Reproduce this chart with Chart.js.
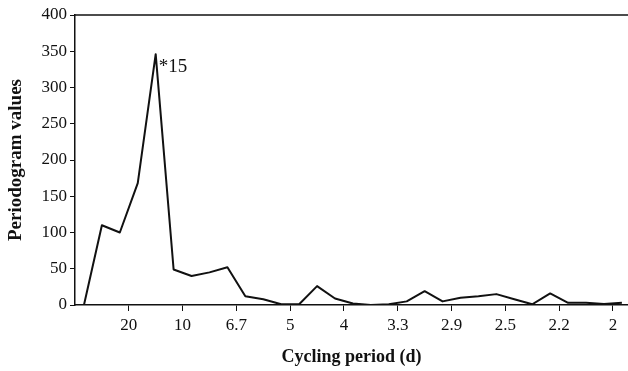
<!DOCTYPE html>
<html>
<head>
<meta charset="utf-8">
<script src="https://cdn.jsdelivr.net/npm/chart.js@4"></script>
<style>
  html, body { margin: 0; padding: 0; background: #fff; }
  #wrap { width: 628px; height: 371px; }
</style>
</head>
<body>
<div id="wrap"><canvas id="chart"></canvas></div>
<script>
// Periodogram ordinates, one per harmonic (first point sits half a step into the axis)
const periodogram = [0, 110, 100, 168, 346, 49, 40, 45, 52, 12, 8, 1, 1, 26, 9, 2, 0, 1, 5, 19, 5, 10, 12, 15, 8, 1, 16, 3, 3, 1.5, 3];
// Harmonic positions where the period ticks sit, and their labels (days)
const tickHarmonics = [3, 6, 9, 12, 15, 18, 21, 24, 27, 30];
const periodLabels = ['20', '10', '6.7', '5', '4', '3.3', '2.9', '2.5', '2.2', '2'];
const yTicks = [0, 50, 100, 150, 200, 250, 300, 350, 400];
const peakNote = '*15';

const serif = '"Liberation Serif", "DejaVu Serif", serif';

// closes the frame along the top edge
const topRule = {
  id: 'topRule',
  afterDraw(chart) {
    const { ctx, chartArea } = chart;
    ctx.save();
    ctx.strokeStyle = '#111';
    ctx.lineWidth = 1.5;
    ctx.beginPath();
    ctx.moveTo(chartArea.left, chartArea.top);
    ctx.lineTo(chart.width, chartArea.top);
    ctx.stroke();
    ctx.restore();
  }
};

// annotates the highest periodogram value
const peakLabel = {
  id: 'peakLabel',
  afterDatasetsDraw(chart) {
    const meta = chart.getDatasetMeta(0);
    const vals = chart.data.datasets[0].data.map(p => p.y);
    const idx = vals.indexOf(Math.max(...vals));
    const pt = meta.data[idx];
    const { ctx } = chart;
    ctx.save();
    ctx.fillStyle = '#111';
    ctx.font = '19px ' + serif;
    ctx.textBaseline = 'top';
    ctx.textAlign = 'left';
    ctx.fillText(peakNote, pt.x + 3, pt.y + 3);
    ctx.restore();
  }
};

new Chart(document.getElementById('chart'), {
  type: 'line',
  data: {
    datasets: [{
      data: periodogram.map((v, i) => ({ x: i + 0.5, y: v })),
      borderColor: '#111',
      borderWidth: 2,
      borderJoinStyle: 'round',
      pointRadius: 0,
      tension: 0,
      fill: false
    }]
  },
  options: {
    responsive: true,
    maintainAspectRatio: false,
    animation: false,
    layout: { padding: { top: 15, right: 0, left: 0, bottom: 0 } },
    plugins: { legend: { display: false }, tooltip: { enabled: false } },
    scales: {
      x: {
        type: 'linear',
        min: 0,
        max: 30.84,
        afterBuildTicks(scale) { scale.ticks = tickHarmonics.map(v => ({ value: v })); },
        afterFit(scale) { scale.height = 66; },
        ticks: {
          callback: (v) => periodLabels[tickHarmonics.indexOf(v)],
          font: { family: serif, size: 17 },
          color: '#111',
          padding: 4,
          maxRotation: 0,
          autoSkip: false
        },
        grid: { drawOnChartArea: false, drawTicks: true, tickLength: 6, color: '#111', lineWidth: 1 },
        border: { color: '#111', width: 1.5 },
        title: {
          display: true,
          text: 'Cycling period (d)',
          font: { family: serif, size: 18, weight: 'bold' },
          color: '#111',
          padding: { top: 0, bottom: 3 }
        }
      },
      y: {
        min: 0,
        max: 400,
        afterBuildTicks(scale) { scale.ticks = yTicks.map(v => ({ value: v })); },
        afterFit(scale) { scale.width = 75; },
        ticks: {
          font: { family: serif, size: 17 },
          color: '#111',
          padding: 3
        },
        grid: { drawOnChartArea: false, drawTicks: true, tickLength: 5, color: '#111', lineWidth: 1 },
        border: { color: '#111', width: 1.5 },
        title: {
          display: true,
          text: 'Periodogram values',
          font: { family: serif, size: 19, weight: 'bold' },
          color: '#111',
          padding: { top: 5, bottom: 0 }
        }
      }
    }
  },
  plugins: [topRule, peakLabel]
});
</script>
</body>
</html>
